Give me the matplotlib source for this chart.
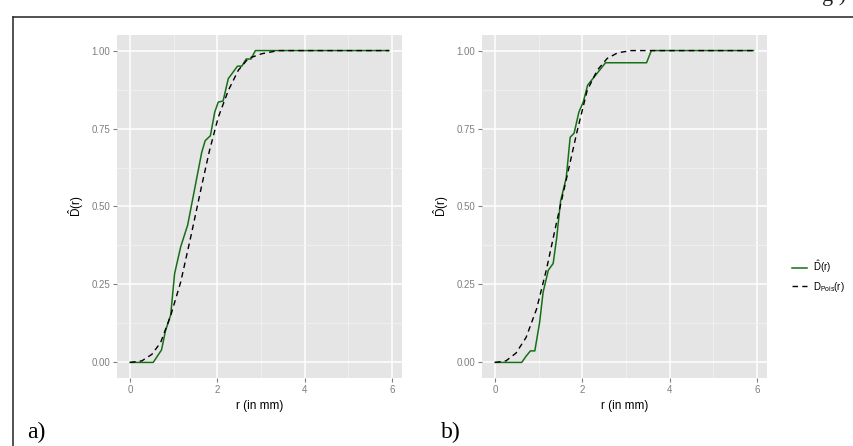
import numpy as np
import matplotlib.pyplot as plt
from matplotlib.lines import Line2D
from matplotlib.ticker import MultipleLocator

plt.rcParams['font.family'] = ['Liberation Sans Narrow', 'Liberation Sans', 'DejaVu Sans']
plt.rcParams['mathtext.fontset'] = 'custom'
plt.rcParams['mathtext.rm'] = 'Liberation Sans'

# panel a) empirical and Poisson curves
r_emp_a = [0, 0.53, 0.72, 0.81, 0.93, 1.02, 1.16, 1.32, 1.64, 1.72, 1.84, 1.94,
           2.02, 2.13, 2.25, 2.46, 2.56, 2.66, 2.77, 2.87, 5.93]
d_emp_a = [0, 0, 0.040, 0.101, 0.152, 0.285, 0.371, 0.441, 0.673, 0.711, 0.727,
           0.803, 0.835, 0.838, 0.910, 0.950, 0.950, 0.973, 0.973, 1.0, 1.0]
r_pois_a = [0, 0.27, 0.50, 0.70, 0.93, 1.16, 1.40, 1.63, 1.82, 2.02, 2.25, 2.48,
            2.71, 3.02, 3.40, 5.93]
d_pois_a = [0, 0.005, 0.026, 0.064, 0.150, 0.258, 0.409, 0.560, 0.680, 0.786,
            0.872, 0.937, 0.975, 0.990, 1.0, 1.0]

# panel b)
r_emp_b = [0, 0.61, 0.71, 0.81, 0.91, 1.02, 1.10, 1.22, 1.33, 1.41, 1.50, 1.63,
           1.72, 1.81, 1.92, 2.02, 2.12, 2.53, 3.47, 3.58, 5.92]
d_emp_b = [0, 0, 0.020, 0.037, 0.037, 0.128, 0.225, 0.296, 0.317, 0.398, 0.517,
           0.592, 0.722, 0.735, 0.803, 0.835, 0.889, 0.961, 0.961, 1.0, 1.0]
r_pois_b = [0, 0.25, 0.48, 0.71, 0.95, 1.18, 1.41, 1.64, 1.88, 2.11, 2.34, 2.57,
            2.81, 3.12, 5.92]
d_pois_b = [0, 0.005, 0.030, 0.080, 0.171, 0.300, 0.450, 0.592, 0.742, 0.872,
            0.937, 0.975, 0.993, 1.0, 1.0]

paneles = [("a)", r_emp_a, d_emp_a, r_pois_a, d_pois_a),
           ("b)", r_emp_b, d_emp_b, r_pois_b, d_pois_b)]

verde = '#157015'
gris_txt = '#7f7f7f'

fig = plt.figure(figsize=(8.54, 4.46), dpi=100)

# marco del documento
fig.add_artist(Line2D([13/854, 13/854], [0, 1 - 17/446], color='#333333', lw=1.2))
fig.add_artist(Line2D([13/854, 1], [1 - 17/446, 1 - 17/446], color='#333333', lw=1.2))
fig.text(822/854, 1 - 1/446, "g )", family='Liberation Serif', fontsize=16,
         va='baseline', color='#222222')

izq = [117/854, 482/854]
letra_x = [27/854, 441/854]
for k, (letra, re, de, rp, dp) in enumerate(paneles):
    ax = fig.add_axes([izq[k], 1 - 378/446, 285/854, 343/446])
    ax.set_facecolor('#E5E5E5')
    ax.set_xlim(-0.3, 6.23)
    ax.set_ylim(-0.05, 1.05)
    ax.xaxis.set_major_locator(MultipleLocator(2))
    ax.xaxis.set_minor_locator(MultipleLocator(1))
    ax.yaxis.set_major_locator(MultipleLocator(0.25))
    ax.yaxis.set_minor_locator(MultipleLocator(0.125))
    ax.yaxis.set_major_formatter(plt.FormatStrFormatter('%.2f'))
    ax.grid(True, which='minor', color='#F2F2F2', lw=0.6)
    ax.grid(True, which='major', color='white', lw=1.1)
    ax.set_axisbelow(True)
    for s in ax.spines.values():
        s.set_visible(False)
    ax.tick_params(which='major', length=3, color=gris_txt, labelcolor=gris_txt,
                   labelsize=7, pad=2)
    ax.tick_params(which='minor', length=0)

    ax.plot(re, de, color=verde, lw=1.1)
    ax.plot(rp, dp, color='black', lw=1.0, ls=(0, (4, 3)))

    ax.set_xlabel("r (in mm)", fontsize=8.5, labelpad=4)
    ax.set_ylabel(r'$\hat{\mathrm{D}}\mathrm{(r)}$', fontsize=8.5, labelpad=4)
    fig.text(letra_x[k], 1 - 438/446, letra, family='Liberation Serif',
             fontsize=17, va='baseline')

handles = [Line2D([], [], color=verde, lw=1.1),
           Line2D([], [], color='black', lw=1.0, ls=(0, (4, 3)))]
labels = [r'$\hat{\mathrm{D}}\mathrm{(r)}$', r'$\mathrm{D}_{\mathrm{Pois}}\mathrm{(r)}$']
fig.legend(handles, labels, loc='center left', bbox_to_anchor=(783/854, 1 - 276/446),
           frameon=False, fontsize=7, handlelength=1.6, handletextpad=0.6,
           labelspacing=0.5)

fig.savefig("out.png", dpi=100)
